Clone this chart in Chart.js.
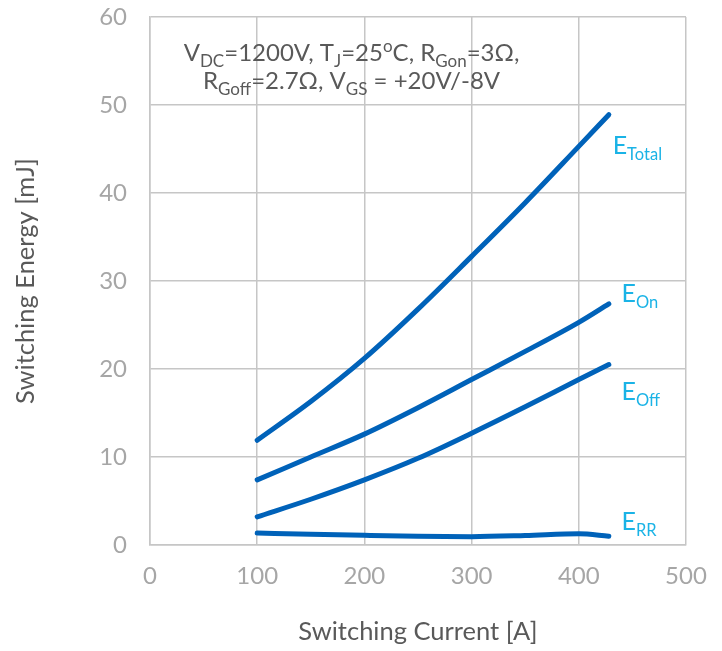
<!DOCTYPE html>
<html>
<head>
<meta charset="utf-8">
<script src="https://cdn.jsdelivr.net/npm/chart.js@4/dist/chart.umd.min.js"></script>
<style>
  html, body { margin: 0; padding: 0; background: #fff; }
  #wrap { width: 722px; height: 651px; }
</style>
</head>
<body>
<div id="wrap"><canvas id="c" width="722" height="651"></canvas></div>
<script>
// Switching current [A]
const current = [100, 150, 200, 250, 300, 350, 400, 428];
// Switching energies [mJ]
const eTotal = [11.9, 16.3, 21.2, 26.8, 32.8, 38.9, 45.3, 48.9];
const eOn    = [7.4, 10.0, 12.6, 15.6, 18.8, 22.0, 25.3, 27.4];
const eOff   = [3.2, 5.2, 7.4, 9.85, 12.7, 15.7, 18.8, 20.5];
const eRR    = [1.35, 1.22, 1.1, 1.0, 0.95, 1.08, 1.28, 1.0];

const seriesNames = ['Total', 'On', 'Off', 'RR'];
const seriesValues = [eTotal, eOn, eOff, eRR];
// where each curve's name sits (value coordinates of the label baseline start)
const labelX = [431.6, 439.8, 439.8, 439.8];
const labelY = [44.4, 27.6, 16.5, 1.75];

const xTicks = [0, 100, 200, 300, 400, 500];
const yTicks = [0, 10, 20, 30, 40, 50, 60];

const FONT = 'Lato, "Open Sans", sans-serif';
const LINE = '#0062B9';
const CYAN = '#1AB3E6';
const GRID = '#C6C6C6';

function pts(values) {
  return current.map((x, i) => ({ x: x, y: values[i] }));
}

// draws a row of text pieces; kind: 0 normal, 1 subscript, 2 superscript
function richWidth(ctx, parts, big, small) {
  let w = 0;
  for (const [t, k] of parts) {
    ctx.font = (k ? small : big) + 'px ' + FONT;
    w += ctx.measureText(t).width;
  }
  return w;
}
function drawRich(ctx, parts, x, y, big, small, color, align) {
  ctx.save();
  ctx.fillStyle = color;
  ctx.textBaseline = 'alphabetic';
  ctx.textAlign = 'left';
  let cx = x;
  if (align === 'center') cx = x - richWidth(ctx, parts, big, small) / 2;
  for (const [t, k] of parts) {
    ctx.font = (k ? small : big) + 'px ' + FONT;
    const dy = k === 1 ? big * 0.24 : (k === 2 ? -big * 0.36 : 0);
    ctx.fillText(t, cx, y + dy);
    cx += ctx.measureText(t).width;
  }
  ctx.restore();
}

const textPlugin = {
  id: 'textPlugin',
  afterDraw(chart) {
    const ctx = chart.ctx;
    const xs = chart.scales.x, ys = chart.scales.y;
    // curve names
    seriesNames.forEach((name, i) => {
      drawRich(ctx, [['E', 0], [name, 1]],
        xs.getPixelForValue(labelX[i]), ys.getPixelForValue(labelY[i]),
        25, 16.5, CYAN, 'left');
    });
    // test conditions
    const cx = xs.getPixelForValue(188);
    drawRich(ctx, [['V', 0], ['DC', 1], ['=1200V, T', 0], ['J', 1], ['=25', 0], ['o', 2], ['C, R', 0], ['Gon', 1], ['=3\u03A9,', 0]],
      cx, ys.getPixelForValue(55.0), 24, 17, '#595959', 'center');
    drawRich(ctx, [['R', 0], ['Goff', 1], ['=2.7\u03A9, V', 0], ['GS', 1], [' = +20V/-8V', 0]],
      cx, ys.getPixelForValue(51.8), 24, 17, '#595959', 'center');
  }
};

const datasets = seriesValues.map((vals, i) => ({
  label: 'E' + seriesNames[i],
  data: pts(vals),
  borderColor: LINE,
  backgroundColor: LINE,
  borderWidth: 5,
  borderCapStyle: 'round',
  borderJoinStyle: 'round',
  pointRadius: 0,
  cubicInterpolationMode: 'monotone',
  fill: false
}));

new Chart(document.getElementById('c'), {
  type: 'line',
  data: { datasets: datasets },
  options: {
    responsive: false,
    animation: false,
    devicePixelRatio: 1,
    layout: { padding: { top: 17, right: 36, left: 0, bottom: 0 } },
    plugins: {
      legend: { display: false },
      tooltip: { enabled: false }
    },
    scales: {
      x: {
        type: 'linear',
        min: 0, max: 500,
        afterBuildTicks(s) { s.ticks = xTicks.map(v => ({ value: v })); },
        afterFit(s) { s.height = 106; s.paddingLeft = 0; s.paddingRight = 0; },
        grid: { color: GRID, lineWidth: 1.5, drawTicks: false },
        border: { color: GRID, width: 1.5 },
        ticks: { color: '#A6A6A6', font: { family: FONT, size: 24 }, padding: 17, maxRotation: 0 },
        title: { display: true, text: 'Switching Current [A]', color: '#595959',
                 font: { family: FONT, size: 25.5 }, padding: { top: 0, bottom: 4 } }
      },
      y: {
        min: 0, max: 60,
        afterBuildTicks(s) { s.ticks = yTicks.map(v => ({ value: v })); },
        afterFit(s) { s.width = 150; s.paddingTop = 0; s.paddingBottom = 0; },
        grid: { color: GRID, lineWidth: 1.5, drawTicks: false },
        border: { color: GRID, width: 1.5 },
        ticks: { color: '#A6A6A6', font: { family: FONT, size: 24 }, padding: 23 },
        title: { display: true, text: 'Switching Energy [mJ]', color: '#595959',
                 font: { family: FONT, size: 25.5 }, padding: { top: 10, bottom: 0 } }
      }
    }
  },
  plugins: [textPlugin]
});
</script>
</body>
</html>
